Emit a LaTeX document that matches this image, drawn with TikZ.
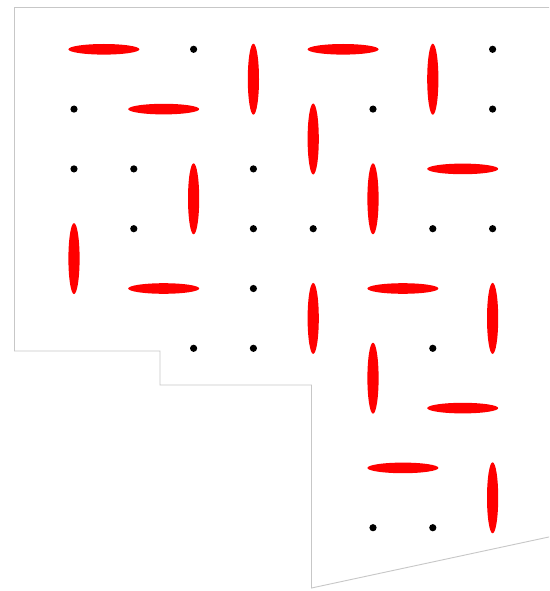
\documentclass[tikz,border=0pt]{standalone}
\begin{document}
\begin{tikzpicture}[x=1pt,y=-1pt,
  dotmark/.style={fill=black},
  domino/.style={fill=red},
  border/.style={draw=black!22, line width=0.9pt, line join=miter}]
\useasboundingbox (0,0) rectangle (549,591);
\clip (0,0) rectangle (549,591);
\fill[white] (0,0) rectangle (549,591);
% outline of the region
\draw[border] (560,7.5) -- (14.5,7.5) -- (14.5,351) -- (160,351) -- (160,385)
  -- (311.5,385) -- (311.5,588) -- (560,534.6);
% free cells
\foreach \c/\r in {2/0,7/0,0/1,5/1,7/1,0/2,1/2,3/2,1/3,3/3,4/3,6/3,7/3,3/4,2/5,3/5,6/5,5/8,6/8}
  \fill[dotmark] ({74+59.8*\c},{49.3+59.8*\r}) circle[radius=3.6pt];
% horizontal dominoes
\foreach \c/\r in {0/0,4/0,1/1,6/2,1/4,5/4,6/6,5/7}
  \fill[domino] ({74+59.8*(\c+0.5)},{49.3+59.8*\r}) ellipse[x radius=35.5pt, y radius=5.3pt];
% vertical dominoes
\foreach \c/\r in {3/0,6/0,4/1,2/2,5/2,0/3,4/4,7/4,5/5,7/7}
  \fill[domino] ({74+59.8*\c},{49.3+59.8*(\r+0.5)}) ellipse[x radius=5.6pt, y radius=35.5pt];
\end{tikzpicture}
\end{document}
